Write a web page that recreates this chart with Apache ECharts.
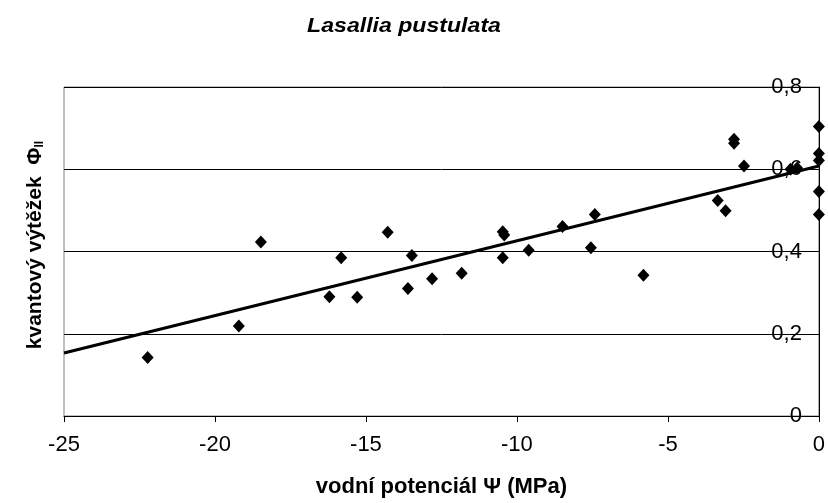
<!DOCTYPE html>
<html>
<head>
<meta charset="utf-8">
<script src="https://cdn.jsdelivr.net/npm/echarts@6/dist/echarts.min.js"></script>
<style>
  html, body { margin: 0; padding: 0; background: #fff; }
  #chart { width: 828px; height: 503px; }
</style>
</head>
<body>
<div id="chart"></div>
<script>
// naměřené body (vodní potenciál MPa, kvantový výtěžek)
const psiValues = [-22.23, -19.21, -18.48, -16.21, -15.82, -15.29, -14.28, -13.48, -13.61, -12.81,
    -11.83, -10.47, -10.42, -10.47, -9.61, -8.49, -7.42, -7.55, -5.81, -3.35,
    -3.09, -2.81, -2.81, -2.48, -0.94, -0.72, 0, 0, 0, 0, 0];
const yieldValues = [0.142, 0.219, 0.423, 0.290, 0.385, 0.289, 0.447, 0.390, 0.310, 0.334,
    0.347, 0.448, 0.440, 0.385, 0.403, 0.461, 0.490, 0.409, 0.342, 0.524,
    0.499, 0.673, 0.663, 0.608, 0.600, 0.603, 0.704, 0.638, 0.621, 0.546, 0.490];
// lineární trend (konce čáry)
const trendX = [-25, 0];
const trendY = [0.153, 0.608];
const xTicks = [-25, -20, -15, -10, -5, 0];
const yTicks = [0, 0.2, 0.4, 0.6, 0.8];

const font = '"Liberation Sans", Arial, sans-serif';
const chart = echarts.init(document.getElementById('chart'));

chart.setOption({
    animation: false,
    backgroundColor: '#fff',
    grid: {
        left: 64, right: 8, top: 87, bottom: 86,
        show: true, borderColor: '#808080', borderWidth: 1, backgroundColor: 'transparent'
    },
    xAxis: {
        type: 'value',
        min: xTicks[0], max: xTicks[xTicks.length - 1], interval: 5,
        axisLine: { onZero: false, lineStyle: { color: '#000', width: 1 } },
        axisTick: { show: true, length: 6, lineStyle: { color: '#000' } },
        axisLabel: { margin: 18, fontFamily: font, fontSize: 22, color: '#000' },
        splitLine: { show: false },
        name: 'vodní potenciál Ψ (MPa)',
        nameLocation: 'middle',
        nameGap: 60,
        nameTextStyle: { fontFamily: font, fontSize: 22, fontWeight: 'bold', color: '#000' }
    },
    yAxis: {
        type: 'value',
        position: 'right',
        min: yTicks[0], max: yTicks[yTicks.length - 1], interval: 0.2,
        axisLine: { show: true, onZero: false, lineStyle: { color: '#000', width: 1 } },
        axisTick: { show: true, inside: true, length: 6, lineStyle: { color: '#000' } },
        axisLabel: {
            inside: true, margin: 17, fontFamily: font, fontSize: 22, color: '#000',
            formatter: v => String(Math.round(v * 10) / 10).replace('.', ',')
        },
        splitLine: { show: true, lineStyle: { color: '#000', width: 1 } }
    },
    graphic: [{
        type: 'text',
        x: 404, y: 26,
        style: {
            text: 'Lasallia pustulata',
            fontFamily: font, fontSize: 21, fontWeight: 'bold', fontStyle: 'italic', fill: '#000',
            align: 'center', verticalAlign: 'middle'
        },
        scaleX: 1.1
    }, {
        type: 'text',
        x: 35, y: 245,
        rotation: Math.PI / 2,
        style: {
            text: 'kvantový výtěžek  Φ{sub|II}',
            fontFamily: font, fontSize: 21, fontWeight: 'bold', fill: '#000',
            align: 'center', verticalAlign: 'middle',
            rich: {
                sub: { fontFamily: font, fontSize: 12, fontWeight: 'bold', verticalAlign: 'bottom', padding: [9, 0, 0, 0] }
            }
        }
    }],
    series: [
        {
            type: 'line',
            data: trendX.map((x, i) => [x, trendY[i]]),
            symbol: 'none',
            lineStyle: { color: '#000', width: 3 },
            z: 3
        },
        {
            type: 'scatter',
            data: psiValues.map((x, i) => [x, yieldValues[i]]),
            symbol: 'diamond',
            symbolSize: [12, 13],
            itemStyle: { color: '#000', opacity: 1 },
            clip: false,
            z: 4
        }
    ]
});
</script>
</body>
</html>
